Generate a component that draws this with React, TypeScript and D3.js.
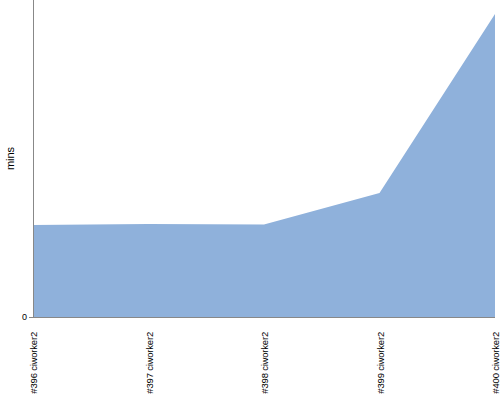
import React from "react";
import * as d3 from "d3";

const builds = ["#396 ciworker2", "#397 ciworker2", "#398 ciworker2", "#399 ciworker2", "#400 ciworker2"];
const durations = [9.2, 9.3, 9.25, 12.4, 30.3];
const yTicks = [0];

const W = 500, H = 400;
const m = { left: 33, right: 5, top: 0, bottom: 83 };

export default function App() {
  const x = d3.scalePoint<string>().domain(builds).range([m.left, W - m.right]);
  const y = d3.scaleLinear().domain([0, 31.7]).range([H - m.bottom, m.top]);
  const area = d3
    .area<number>()
    .x((_, i) => x(builds[i])!)
    .y0(y(0))
    .y1((d) => y(d));
  const y0 = y(0);
  return (
    <svg width={W} height={H} style={{ position: "absolute", left: 0, top: 0, fontFamily: "Liberation Sans, Arial, sans-serif" }}>
      <path d={area(durations)!} fill="#8fb1db" />
      <line x1={m.left} x2={W - m.right} y1={y0 + 0.5} y2={y0 + 0.5} stroke="#888" />
      <line x1={m.left + 0.5} x2={m.left + 0.5} y1={m.top} y2={y0} stroke="#888" />
      {yTicks.map((t) => (
        <g key={t}>
          <line x1={m.left - 4} x2={m.left} y1={y(t) + 0.5} y2={y(t) + 0.5} stroke="#888" />
          <text x={m.left - 6} y={y(t)} dy="0.35em" textAnchor="end" fontSize={9} fill="#000">
            {t}
          </text>
        </g>
      ))}
      {builds.map((b) => (
        <text
          key={b}
          transform={`translate(${x(b)! + 1},${y0 + 15}) rotate(-90)`}
          textAnchor="end"
          dy="0.35em"
          fontSize={9.5}
          letterSpacing={-0.2}
          fill="#000"
        >
          {b}
        </text>
      ))}
      <text transform={`translate(10,${(m.top + y0) / 2}) rotate(-90)`} textAnchor="middle" dy="0.35em" fontSize={11} fill="#000">
        mins
      </text>
    </svg>
  );
}
